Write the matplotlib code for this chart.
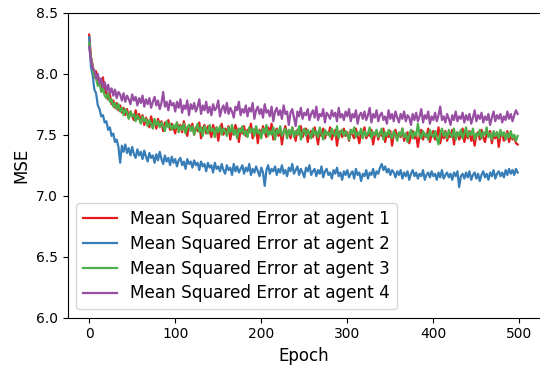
import matplotlib
matplotlib.use("Agg")
import matplotlib.pyplot as plt

# Training epochs at which the MSE was logged (every 2nd epoch)
epochs = list(range(0, 500, 2))

mse_agent1 = [
    8.32, 8.14, 8.07, 7.99, 8.02, 7.93, 7.96, 7.88, 7.97, 7.84,
    7.86, 7.79, 7.83, 7.75, 7.78, 7.72, 7.76, 7.70, 7.74, 7.68,
    7.72, 7.66, 7.71, 7.64, 7.69, 7.65, 7.62, 7.70, 7.63, 7.67,
    7.60, 7.66, 7.58, 7.64, 7.61, 7.56, 7.65, 7.59, 7.62, 7.55,
    7.63, 7.58, 7.61, 7.53, 7.60, 7.57, 7.62, 7.54, 7.59, 7.56,
    7.51, 7.60, 7.55, 7.58, 7.52, 7.61, 7.54, 7.49, 7.58, 7.55,
    7.59, 7.50, 7.56, 7.53, 7.60, 7.47, 7.55, 7.58, 7.51, 7.57,
    7.53, 7.48, 7.58, 7.52, 7.56, 7.45, 7.54, 7.59, 7.50, 7.55,
    7.52, 7.57, 7.46, 7.54, 7.50, 7.58, 7.53, 7.44, 7.55, 7.51,
    7.57, 7.49, 7.54, 7.52, 7.59, 7.47, 7.53, 7.56, 7.43, 7.54,
    7.50, 7.57, 7.52, 7.48, 7.56, 7.51, 7.59, 7.46, 7.53, 7.55,
    7.49, 7.54, 7.42, 7.52, 7.57, 7.50, 7.53, 7.47, 7.56, 7.51,
    7.45, 7.54, 7.50, 7.57, 7.48, 7.52, 7.55, 7.44, 7.51, 7.53,
    7.48, 7.56, 7.50, 7.42, 7.53, 7.49, 7.55, 7.47, 7.52, 7.50,
    7.56, 7.46, 7.51, 7.54, 7.41, 7.50, 7.53, 7.48, 7.55, 7.49,
    7.52, 7.45, 7.54, 7.50, 7.47, 7.55, 7.49, 7.43, 7.52, 7.50,
    7.56, 7.47, 7.51, 7.49, 7.54, 7.42, 7.50, 7.53, 7.46, 7.52,
    7.49, 7.55, 7.44, 7.51, 7.48, 7.53, 7.41, 7.50, 7.54, 7.47,
    7.51, 7.48, 7.55, 7.45, 7.50, 7.52, 7.43, 7.49, 7.53, 7.47,
    7.50, 7.40, 7.49, 7.54, 7.46, 7.51, 7.48, 7.55, 7.44, 7.50,
    7.53, 7.46, 7.49, 7.56, 7.43, 7.51, 7.47, 7.53, 7.45, 7.50,
    7.48, 7.54, 7.42, 7.50, 7.52, 7.46, 7.49, 7.55, 7.44, 7.51,
    7.47, 7.53, 7.45, 7.49, 7.41, 7.50, 7.52, 7.46, 7.54, 7.48,
    7.44, 7.51, 7.49, 7.53, 7.43, 7.50, 7.47, 7.52, 7.40, 7.49,
    7.51, 7.45, 7.48, 7.53, 7.44, 7.50, 7.46, 7.49, 7.43, 7.42,
]

mse_agent2 = [
    8.30, 8.06, 7.99, 7.87, 7.84, 7.74, 7.71, 7.65, 7.66, 7.60,
    7.61, 7.54, 7.56, 7.49, 7.51, 7.44, 7.46, 7.40, 7.27, 7.41,
    7.36, 7.42, 7.35, 7.39, 7.33, 7.40, 7.34, 7.31, 7.38, 7.33,
    7.36, 7.30, 7.37, 7.32, 7.28, 7.35, 7.31, 7.33, 7.27, 7.34,
    7.29, 7.36, 7.30, 7.26, 7.33, 7.28, 7.31, 7.25, 7.32, 7.27,
    7.30, 7.24, 7.29, 7.31, 7.25, 7.28, 7.22, 7.30, 7.26, 7.28,
    7.23, 7.29, 7.25, 7.27, 7.21, 7.28, 7.24, 7.26, 7.20, 7.27,
    7.23, 7.25, 7.19, 7.27, 7.22, 7.24, 7.20, 7.26, 7.21, 7.18,
    7.25, 7.21, 7.23, 7.17, 7.26, 7.20, 7.24, 7.19, 7.22, 7.25,
    7.18, 7.23, 7.20, 7.26, 7.17, 7.22, 7.19, 7.24, 7.20, 7.16,
    7.23, 7.19, 7.08, 7.21, 7.25, 7.18, 7.22, 7.20, 7.24, 7.17,
    7.22, 7.19, 7.25, 7.18, 7.21, 7.16, 7.23, 7.20, 7.26, 7.18,
    7.21, 7.24, 7.17, 7.22, 7.19, 7.15, 7.23, 7.20, 7.25, 7.17,
    7.20, 7.22, 7.16, 7.21, 7.18, 7.24, 7.15, 7.20, 7.22, 7.17,
    7.19, 7.14, 7.21, 7.18, 7.23, 7.16, 7.19, 7.13, 7.20, 7.17,
    7.21, 7.15, 7.18, 7.20, 7.14, 7.22, 7.17, 7.19, 7.12, 7.18,
    7.16, 7.21, 7.14, 7.19, 7.17, 7.22, 7.15, 7.20, 7.18, 7.23,
    7.26, 7.21, 7.24, 7.19, 7.22, 7.17, 7.21, 7.19, 7.15, 7.20,
    7.17, 7.21, 7.14, 7.19, 7.16, 7.20, 7.13, 7.18, 7.21, 7.16,
    7.19, 7.14, 7.18, 7.16, 7.21, 7.13, 7.17, 7.19, 7.15, 7.20,
    7.16, 7.18, 7.13, 7.19, 7.15, 7.21, 7.14, 7.17, 7.19, 7.15,
    7.18, 7.13, 7.19, 7.16, 7.20, 7.07, 7.16, 7.18, 7.14, 7.19,
    7.15, 7.20, 7.13, 7.17, 7.19, 7.14, 7.18, 7.12, 7.17, 7.20,
    7.15, 7.18, 7.13, 7.19, 7.16, 7.21, 7.14, 7.18, 7.20, 7.16,
    7.19, 7.15, 7.21, 7.17, 7.22, 7.18, 7.21, 7.17, 7.22, 7.19,
]

mse_agent3 = [
    8.25, 8.13, 8.05, 7.97, 7.96, 7.90, 7.93, 7.85, 7.88, 7.82,
    7.80, 7.84, 7.77, 7.79, 7.73, 7.76, 7.71, 7.75, 7.69, 7.72,
    7.66, 7.71, 7.68, 7.63, 7.69, 7.65, 7.67, 7.61, 7.66, 7.63,
    7.59, 7.65, 7.61, 7.63, 7.57, 7.62, 7.59, 7.55, 7.63, 7.58,
    7.61, 7.56, 7.60, 7.57, 7.53, 7.61, 7.56, 7.59, 7.54, 7.58,
    7.55, 7.60, 7.52, 7.57, 7.54, 7.59, 7.51, 7.56, 7.58, 7.53,
    7.57, 7.50, 7.55, 7.59, 7.52, 7.56, 7.49, 7.57, 7.54, 7.51,
    7.58, 7.53, 7.55, 7.48, 7.56, 7.52, 7.57, 7.50, 7.55, 7.53,
    7.49, 7.56, 7.52, 7.58, 7.50, 7.54, 7.47, 7.55, 7.52, 7.57,
    7.50, 7.53, 7.48, 7.56, 7.52, 7.55, 7.49, 7.57, 7.51, 7.53,
    7.47, 7.55, 7.51, 7.58, 7.49, 7.53, 7.50, 7.56, 7.46, 7.54,
    7.51, 7.57, 7.49, 7.52, 7.55, 7.47, 7.54, 7.50, 7.56, 7.48,
    7.53, 7.50, 7.57, 7.46, 7.52, 7.55, 7.49, 7.54, 7.51, 7.47,
    7.55, 7.50, 7.53, 7.48, 7.56, 7.51, 7.46, 7.54, 7.50, 7.52,
    7.48, 7.55, 7.51, 7.49, 7.57, 7.47, 7.52, 7.54, 7.49, 7.53,
    7.50, 7.46, 7.54, 7.51, 7.56, 7.48, 7.52, 7.50, 7.55, 7.47,
    7.53, 7.49, 7.51, 7.56, 7.47, 7.52, 7.50, 7.54, 7.48, 7.51,
    7.55, 7.46, 7.52, 7.49, 7.54, 7.50, 7.47, 7.53, 7.50, 7.45,
    7.52, 7.49, 7.55, 7.48, 7.51, 7.44, 7.50, 7.54, 7.47, 7.52,
    7.49, 7.59, 7.50, 7.47, 7.53, 7.49, 7.51, 7.46, 7.54, 7.50,
    7.48, 7.53, 7.47, 7.42, 7.51, 7.55, 7.49, 7.52, 7.47, 7.54,
    7.50, 7.48, 7.55, 7.46, 7.52, 7.49, 7.54, 7.47, 7.51, 7.56,
    7.48, 7.52, 7.50, 7.55, 7.46, 7.51, 7.49, 7.54, 7.47, 7.52,
    7.50, 7.56, 7.48, 7.51, 7.46, 7.53, 7.49, 7.52, 7.47, 7.54,
    7.49, 7.52, 7.46, 7.51, 7.48, 7.53, 7.47, 7.50, 7.45, 7.49,
]

mse_agent4 = [
    8.22, 8.11, 8.04, 8.03, 7.96, 8.00, 7.92, 7.96, 7.89, 7.93,
    7.86, 7.91, 7.84, 7.88, 7.82, 7.87, 7.80, 7.85, 7.83, 7.78,
    7.84, 7.77, 7.82, 7.79, 7.75, 7.83, 7.78, 7.81, 7.74, 7.80,
    7.76, 7.82, 7.73, 7.79, 7.75, 7.80, 7.72, 7.77, 7.81, 7.74,
    7.78, 7.71, 7.76, 7.85, 7.73, 7.77, 7.70, 7.78, 7.74, 7.76,
    7.69, 7.77, 7.72, 7.79, 7.68, 7.74, 7.71, 7.78, 7.66, 7.75,
    7.71, 7.76, 7.69, 7.73, 7.79, 7.67, 7.74, 7.70, 7.77, 7.68,
    7.73, 7.66, 7.75, 7.70, 7.72, 7.78, 7.65, 7.71, 7.74, 7.68,
    7.76, 7.67, 7.72, 7.69, 7.64, 7.73, 7.70, 7.77, 7.66, 7.71,
    7.68, 7.74, 7.65, 7.72, 7.69, 7.76, 7.63, 7.70, 7.73, 7.67,
    7.71, 7.64, 7.75, 7.68, 7.70, 7.65, 7.73, 7.61, 7.69, 7.72,
    7.66, 7.70, 7.63, 7.74, 7.67, 7.69, 7.58, 7.68, 7.71, 7.64,
    7.57, 7.69, 7.65, 7.72, 7.63, 7.68, 7.66, 7.71, 7.62, 7.67,
    7.70, 7.64, 7.73, 7.62, 7.67, 7.65, 7.71, 7.60, 7.68, 7.66,
    7.63, 7.70, 7.65, 7.68, 7.61, 7.72, 7.64, 7.67, 7.62, 7.69,
    7.65, 7.71, 7.61, 7.67, 7.64, 7.70, 7.59, 7.66, 7.68, 7.63,
    7.69, 7.62, 7.66, 7.72, 7.60, 7.67, 7.64, 7.70, 7.61, 7.66,
    7.68, 7.62, 7.65, 7.59, 7.70, 7.63, 7.67, 7.61, 7.69, 7.64,
    7.60, 7.67, 7.63, 7.69, 7.61, 7.66, 7.64, 7.58, 7.67, 7.62,
    7.68, 7.61, 7.65, 7.71, 7.60, 7.66, 7.63, 7.69, 7.59, 7.65,
    7.62, 7.68, 7.61, 7.66, 7.73, 7.62, 7.65, 7.60, 7.67, 7.63,
    7.58, 7.66, 7.62, 7.69, 7.61, 7.65, 7.63, 7.68, 7.60, 7.66,
    7.62, 7.67, 7.59, 7.64, 7.70, 7.61, 7.66, 7.63, 7.68, 7.60,
    7.65, 7.62, 7.67, 7.58, 7.64, 7.69, 7.61, 7.66, 7.63, 7.67,
    7.60, 7.65, 7.62, 7.69, 7.63, 7.67, 7.61, 7.66, 7.70, 7.67,
]

series = [
    ("Mean Squared Error at agent 1", mse_agent1, "#e41a1c"),
    ("Mean Squared Error at agent 2", mse_agent2, "#377eb8"),
    ("Mean Squared Error at agent 3", mse_agent3, "#4daf4a"),
    ("Mean Squared Error at agent 4", mse_agent4, "#984ea3"),
]

fig = plt.figure(figsize=(5.4, 3.68), dpi=100)
ax = fig.add_axes([0.1254, 0.1367, 0.8746, 0.8288])

for label, values, color in series:
    ax.plot(epochs, values, color=color, lw=1.6, label=label)

ax.set_xlim(-24.95, 523.95)
ax.set_ylim(6.0, 8.5)
ax.set_xticks([0, 100, 200, 300, 400, 500])
ax.set_yticks([6.0, 6.5, 7.0, 7.5, 8.0, 8.5])
ax.tick_params(labelsize=10)
ax.set_xlabel("Epoch", fontsize=12)
ax.set_ylabel("MSE", fontsize=12)
ax.spines["right"].set_visible(False)

ax.legend(loc="lower left", fontsize=12.2, labelspacing=0.4)

fig.savefig("out.png", dpi=100)
